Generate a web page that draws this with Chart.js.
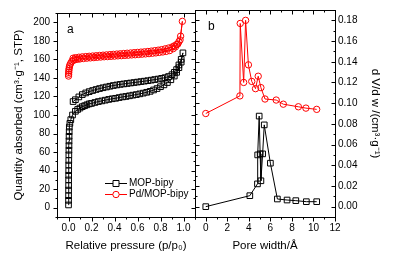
<!DOCTYPE html>
<html>
<head>
<meta charset="utf-8">
<script src="https://cdn.jsdelivr.net/npm/chart.js@4.4.1/dist/chart.umd.min.js"></script>
<style>
  body { margin: 0; background: #fff; }
  #wrap { position: relative; width: 397px; height: 260px; }
  canvas { position: absolute; top: 0; }
  #isotherm { left: 0; }
  #poreSize { left: 190px; }
</style>
</head>
<body>
<div id="wrap">
  <canvas id="isotherm" width="200" height="260"></canvas>
  <canvas id="poreSize" width="207" height="260"></canvas>
</div>
<script>
// tick labels
var pressureTicks = [0, 0.2, 0.4, 0.6, 0.8, 1.0];
var quantityTicks = [0, 20, 40, 60, 80, 100, 120, 140, 160, 180, 200];
var widthTicks = [0, 2, 4, 6, 8, 10, 12];
var dvdwTicks = [0, 0.02, 0.04, 0.06, 0.08, 0.10, 0.12, 0.14, 0.16, 0.18];

// panel a: N2 isotherms (adsorption then desorption)
var mopP = [0.0002, 0.0004, 0.0006, 0.0008, 0.001, 0.0012, 0.0015, 0.0018, 0.002, 0.0025, 0.003, 0.0035, 0.004, 0.0045, 0.005, 0.006, 0.007,
  0.012, 0.02, 0.035, 0.06, 0.08, 0.1, 0.12, 0.14, 0.16, 0.18, 0.2, 0.23, 0.26, 0.29, 0.32, 0.35, 0.38, 0.41, 0.44, 0.47, 0.5,
  0.53, 0.56, 0.59, 0.62, 0.65, 0.68, 0.71, 0.74, 0.77, 0.8, 0.83, 0.86, 0.89, 0.92, 0.94, 0.96, 0.98, 0.995,
  0.98, 0.96, 0.94, 0.92, 0.9, 0.87, 0.84, 0.81, 0.78, 0.75, 0.72, 0.69, 0.66, 0.63, 0.6, 0.57, 0.54, 0.51, 0.48, 0.45,
  0.42, 0.39, 0.36, 0.33, 0.3, 0.27, 0.24, 0.21, 0.18, 0.15, 0.12, 0.09, 0.06, 0.04];
var mopV = [3, 8, 13, 19, 24, 30, 35, 40, 46, 51, 57, 62, 67, 72, 77, 82, 87,
  91, 95, 100, 104, 106, 107.5, 109, 110, 111, 112, 112.5, 113.5, 114.5, 115.2, 116, 116.8, 117.5, 118, 118.8, 119.5, 120,
  120.7, 121.4, 122, 122.8, 123.6, 124.5, 125.5, 127, 128.5, 130.5, 132.5, 135, 138, 142, 146, 151, 157, 167,
  160, 154, 149, 146, 143.5, 141.5, 140.3, 139.5, 138.8, 138.2, 137.6, 137, 136.5, 136, 135.5, 135, 134.5, 134, 133.5, 133,
  132.4, 131.8, 131, 130.2, 129.4, 128.5, 127.5, 126.4, 125.2, 123.8, 122, 119.5, 116.5, 114.5];

var pdP = [0.0005, 0.001, 0.002, 0.003, 0.005, 0.008, 0.012, 0.02, 0.03, 0.045, 0.06, 0.08, 0.1, 0.13, 0.16, 0.19, 0.22, 0.25,
  0.28, 0.31, 0.34, 0.37, 0.4, 0.43, 0.46, 0.49, 0.52, 0.55, 0.58, 0.61, 0.64, 0.67, 0.7, 0.73, 0.76, 0.79, 0.82, 0.85,
  0.88, 0.91, 0.93, 0.95, 0.97, 0.99,
  0.975, 0.96, 0.94, 0.92, 0.9, 0.87, 0.84, 0.81, 0.78, 0.75, 0.72, 0.69, 0.66, 0.63, 0.6, 0.57, 0.54, 0.51, 0.48, 0.45,
  0.42, 0.39, 0.36, 0.33, 0.3, 0.27, 0.24, 0.21, 0.18, 0.15, 0.12, 0.09, 0.06, 0.04];
var pdV = [142, 144, 146, 148, 150, 152, 154, 156, 158, 159.2, 159.8, 160.2, 160.5, 160.9, 161.3, 161.6, 161.9, 162.2,
  162.5, 162.8, 163, 163.3, 163.5, 163.8, 164, 164.3, 164.5, 164.8, 165, 165.3, 165.6, 165.9, 166.2, 166.6, 167, 167.5, 168, 168.6,
  169.5, 171.5, 173.5, 176.5, 181, 201,
  185, 179, 176, 174.5, 173.3, 172.2, 171.3, 170.5, 169.9, 169.4, 168.9, 168.5, 168.1, 167.8, 167.5, 167.2, 166.9, 166.6, 166.3, 166,
  165.7, 165.4, 165.1, 164.8, 164.5, 164.2, 163.9, 163.6, 163.3, 163, 162.7, 162.3, 161.8, 161.2];

// panel b: pore size distribution
var mopW = [0, 4.09, 4.8, 4.82, 4.96, 5.05, 5.12, 5.28, 5.43, 6.0, 6.65, 7.55, 8.36, 9.34, 10.3];
var mopD = [0.000, 0.0106, 0.022, 0.050, 0.0875, 0.051, 0.025, 0.051, 0.079, 0.042, 0.0074, 0.0064, 0.0058, 0.0048, 0.0048];
var pdW = [0, 3.17, 3.2, 3.52, 3.7, 3.96, 4.27, 4.62, 4.87, 5.12, 5.5, 6.54, 7.2, 8.6, 9.3, 10.3];
var pdD = [0.090, 0.107, 0.177, 0.120, 0.180, 0.137, 0.121, 0.114, 0.126, 0.115, 0.104, 0.103, 0.099, 0.0965, 0.0952, 0.094];

Chart.defaults.font.family = "'Liberation Sans', Arial, sans-serif";
Chart.defaults.font.size = 10;
Chart.defaults.color = '#000';

function pairs(xs, ys) {
  return xs.map(function (x, i) { return { x: x, y: ys[i] }; });
}

function fixedTicks(list) {
  return function (scale) { scale.ticks = list.map(function (v) { return { value: v }; }); };
}

function minorValues(scale, step) {
  var out = [];
  var start = Math.ceil(scale.min / step - 1e-6);
  var end = Math.floor(scale.max / step + 1e-6);
  for (var k = start; k <= end; k++) out.push(k * step);
  return out;
}

function tickLine(ctx, scale, values, len, side, inward, area) {
  values.forEach(function (v) {
    var p = Math.round(scale.getPixelForValue(v)) + 0.5;
    var d = inward ? -len : len;
    ctx.beginPath();
    if (side === 'bottom') { ctx.moveTo(p, area.bottom); ctx.lineTo(p, area.bottom + d); }
    if (side === 'top') { ctx.moveTo(p, area.top); ctx.lineTo(p, area.top - d); }
    if (side === 'left') { ctx.moveTo(area.left, p); ctx.lineTo(area.left - d, p); }
    if (side === 'right') { ctx.moveTo(area.right, p); ctx.lineTo(area.right + d, p); }
    ctx.stroke();
  });
}

// frame, ticks, panel letter and the inside legend
var framePlugin = {
  id: 'frame',
  afterDraw: function (chart, args, opts) {
    var ctx = chart.ctx;
    var a = chart.chartArea;
    var area = { left: Math.round(a.left) + 0.5, right: Math.round(a.right) + 0.5, top: Math.round(a.top) + 0.5, bottom: Math.round(a.bottom) + 0.5 };
    ctx.save();
    ctx.strokeStyle = '#000';
    ctx.lineWidth = 1;
    ctx.strokeRect(area.left, area.top, area.right - area.left, area.bottom - area.top);

    var xs = chart.scales.x, ys = chart.scales.y;
    var xMaj = xs.ticks.map(function (t) { return t.value; });
    var yMaj = ys.ticks.map(function (t) { return t.value; });
    var xMin = minorValues(xs, opts.xMinor);
    var yMin = minorValues(ys, opts.yMinor);
    ['bottom', 'top'].forEach(function (s) {
      var inward = opts.inward.indexOf(s) >= 0;
      tickLine(ctx, xs, xMaj, 4, s, inward, area);
      tickLine(ctx, xs, xMin, 2, s, inward, area);
    });
    ['left', 'right'].forEach(function (s) {
      var inward = opts.inward.indexOf(s) >= 0;
      tickLine(ctx, ys, yMaj, 4, s, inward, area);
      tickLine(ctx, ys, yMin, 2, s, inward, area);
    });

    ctx.fillStyle = '#000';
    ctx.font = "12px 'Liberation Sans', Arial, sans-serif";
    ctx.textBaseline = 'middle';
    ctx.fillText(opts.letter, a.left + opts.letterX, a.top + 17);

    if (opts.legend) {
      ctx.font = "10px 'Liberation Sans', Arial, sans-serif";
      chart.data.datasets.forEach(function (ds, i) {
        var y = Math.round(a.bottom - 34 + i * 10.5) + 0.5;
        var x0 = a.left + 48, x1 = a.left + 70, xm = (x0 + x1) / 2;
        ctx.strokeStyle = ds.borderColor;
        ctx.lineWidth = 1;
        ctx.beginPath(); ctx.moveTo(x0, y); ctx.lineTo(x1, y); ctx.stroke();
        ctx.fillStyle = '#fff';
        ctx.beginPath();
        if (ds.pointStyle === 'rect') ctx.rect(xm - 3, y - 3, 6, 6);
        else ctx.arc(xm, y, 3.2, 0, Math.PI * 2);
        ctx.fill(); ctx.stroke();
        ctx.fillStyle = '#000';
        ctx.fillText(ds.label, x1 + 2, y);
      });
    }
    ctx.restore();
  }
};

function series(label, pts, color, style, r) {
  return {
    label: label,
    data: pts,
    showLine: true,
    borderColor: color,
    borderWidth: 1,
    pointStyle: style,
    pointRadius: r,
    pointBorderColor: color,
    pointBorderWidth: 1,
    pointBackgroundColor: 'rgba(255,255,255,0)'
  };
}

var titleFont = { size: 11.5 };

new Chart(document.getElementById('isotherm'), {
  type: 'scatter',
  data: {
    datasets: [
      series('MOP-bipy', pairs(mopP, mopV), '#000000', 'rect', 4),
      series('Pd/MOP-bipy', pairs(pdP, pdV), '#ff0000', 'circle', 3.2)
    ]
  },
  options: {
    responsive: false,
    animation: false,
    layout: { padding: { left: 0, right: 5, top: 10, bottom: 0 } },
    plugins: {
      legend: { display: false },
      tooltip: { enabled: false },
      frame: { letter: 'a', letterX: 10, xMinor: 0.1, yMinor: 10, inward: ['top', 'right'], legend: true }
    },
    scales: {
      x: {
        type: 'linear', min: -0.1, max: 1.1,
        afterBuildTicks: fixedTicks(pressureTicks),
        afterFit: function (s) { s.height = 43; },
        grid: { display: false, drawTicks: false },
        border: { display: false },
        ticks: { padding: 5, maxRotation: 0, callback: function (v) { return v.toFixed(1); } },
        title: { display: true, text: 'Relative pressure (p/p₀)', font: titleFont, padding: { top: 0, bottom: 7 } }
      },
      y: {
        type: 'linear', min: -10, max: 210,
        afterBuildTicks: fixedTicks(quantityTicks),
        afterFit: function (s) { s.width = 57; },
        grid: { display: false, drawTicks: false },
        border: { display: false },
        ticks: { padding: 7 },
        title: { display: true, text: 'Quantity absorbed (cm³·g⁻¹, STP)', font: titleFont, padding: { top: 12, bottom: 4 } }
      }
    }
  },
  plugins: [framePlugin]
});

new Chart(document.getElementById('poreSize'), {
  type: 'scatter',
  data: {
    datasets: [
      series('MOP-bipy', pairs(mopW, mopD), '#000000', 'rect', 4),
      series('Pd/MOP-bipy', pairs(pdW, pdD), '#ff0000', 'circle', 3.2)
    ]
  },
  options: {
    responsive: false,
    animation: false,
    layout: { padding: { left: 5, right: 6, top: 10, bottom: 0 } },
    plugins: {
      legend: { display: false },
      tooltip: { enabled: false },
      frame: { letter: 'b', letterX: 13, xMinor: 1, yMinor: 0.01, inward: ['top', 'left', 'right'], legend: false }
    },
    scales: {
      x: {
        type: 'linear', min: -1, max: 12,
        afterBuildTicks: fixedTicks(widthTicks),
        afterFit: function (s) { s.height = 43; },
        grid: { display: false, drawTicks: false },
        border: { display: false },
        ticks: { padding: 5, maxRotation: 0 },
        title: { display: true, text: 'Pore width/Å', font: titleFont, padding: { top: 0, bottom: 7 } }
      },
      y: {
        type: 'linear', position: 'right', min: -0.01, max: 0.19,
        afterBuildTicks: fixedTicks(dvdwTicks),
        afterFit: function (s) { s.width = 56; },
        grid: { display: false, drawTicks: false },
        border: { display: false },
        ticks: { padding: 3, callback: function (v) { return v.toFixed(2); } },
        title: { display: true, text: 'd V/d w /(cm³·g⁻¹)', font: titleFont, padding: { top: 9, bottom: 4 } }
      }
    }
  },
  plugins: [framePlugin]
});
</script>
</body>
</html>
